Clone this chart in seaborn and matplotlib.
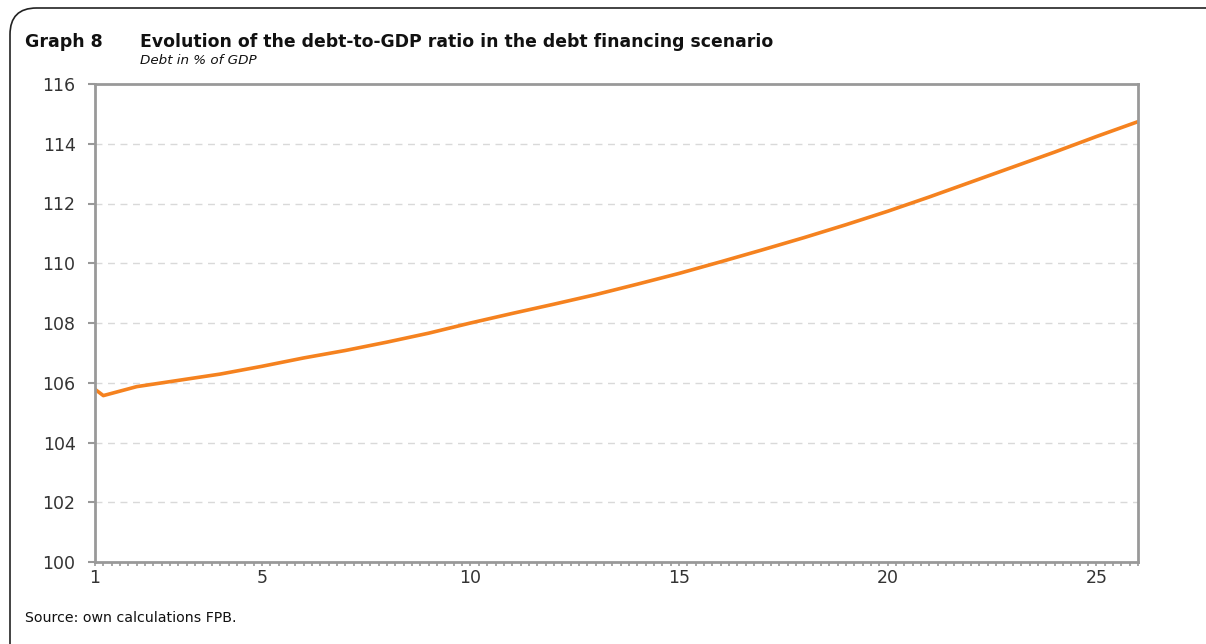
import matplotlib
matplotlib.use("Agg")
import matplotlib.pyplot as plt
from matplotlib.patches import FancyBboxPatch
from matplotlib.ticker import MultipleLocator
import seaborn as sns
import pandas as pd

# Debt in % of GDP
periode = [1, 1.2, 2, 3, 4, 5, 6, 7, 8, 9, 10, 11, 12, 13,
           14, 15, 16, 17, 18, 19, 20, 21, 22, 23, 24, 25, 26]
dette = [105.78, 105.57, 105.87, 106.08, 106.29, 106.55, 106.83, 107.08,
         107.36, 107.66, 108.0, 108.32, 108.63, 108.95, 109.3, 109.66,
         110.05, 110.45, 110.86, 111.29, 111.74, 112.22, 112.72, 113.22,
         113.72, 114.24, 114.74]
xticks = [1, 5, 10, 15, 20, 25]
yticks = [100, 102, 104, 106, 108, 110, 112, 114, 116]

df = pd.DataFrame({"periode": periode, "dette": dette})

sns.set_style("white")
plt.rcParams["font.family"] = ["DejaVu Sans"]

fig = plt.figure(figsize=(12.06, 6.44), dpi=100)
ax = fig.add_axes([95 / 1206, 1 - 562 / 644, (1138 - 95) / 1206, (562 - 84) / 644])

sns.lineplot(data=df, x="periode", y="dette", color="#F5821F", linewidth=2.6, ax=ax)

ax.set_xlim(1, 26)
ax.set_ylim(100, 116)
ax.set_xticks(xticks)
ax.xaxis.set_minor_locator(MultipleLocator(0.2))
ax.set_yticks(yticks)
ax.set_xlabel("")
ax.set_ylabel("")

gris = "#999999"
for s in ax.spines.values():
    s.set_visible(True)
    s.set_color(gris)
    s.set_linewidth(2)

ax.tick_params(axis="y", which="major", direction="out", length=5, width=1.5,
               color=gris, labelsize=12.5, labelcolor="#333333", pad=9, left=True)
ax.tick_params(axis="x", which="both", direction="out", length=3, width=1.2,
               color=gris, labelsize=12.5, labelcolor="#333333", pad=2, bottom=True)

for y in yticks[1:-1]:
    ax.axhline(y, color="#d9d9d9", linewidth=1, linestyle=(0, (5, 4)), zorder=0)

# titres
fig.text(25 / 1206, 1 - 42 / 644, "Graph 8", fontsize=12.5, fontweight="bold",
         va="center", ha="left", color="#111111")
fig.text(140 / 1206, 1 - 42 / 644,
         "Evolution of the debt-to-GDP ratio in the debt financing scenario",
         fontsize=12.4, fontweight="bold", va="center", ha="left", color="#111111")
fig.text(140 / 1206, 1 - 61 / 644, "Debt in % of GDP", fontsize=9.7,
         style="italic", va="center", ha="left", color="#111111")
fig.text(25 / 1206, 1 - 618 / 644, "Source: own calculations FPB.", fontsize=10.2,
         va="center", ha="left", color="#111111")

# cadre arrondi
cadre = FancyBboxPatch((10 / 1206, -0.1), 1.2, 1 - 8 / 644 + 0.1,
                       boxstyle="round,pad=0,rounding_size=0.022",
                       transform=fig.transFigure, fill=False,
                       edgecolor="#222222", linewidth=1.2, mutation_aspect=1206 / 644)
fig.patches.append(cadre)

fig.savefig("out.png", dpi=100)
